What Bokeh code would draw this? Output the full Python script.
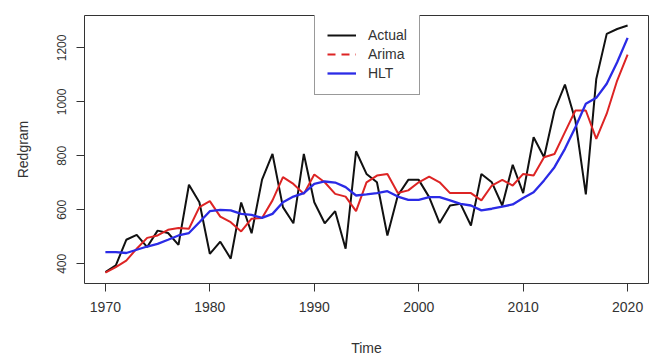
from bokeh.plotting import figure
from bokeh.models import Range1d, Legend, LegendItem, FixedTicker
from bokeh.embed import file_html
from bokeh.resources import INLINE

years = list(range(1970, 2021))
actual = [369, 394, 489, 507, 462, 523, 514, 470, 693, 628,
          437, 482, 419, 627, 513, 712, 807, 610, 550, 807,
          628, 550, 595, 456, 817, 733, 702, 505, 653, 711,
          711, 647, 551, 616, 622, 542, 733, 702, 616, 767,
          662, 869, 795, 968, 1064, 931, 657, 1085, 1252, 1270,
          1283]
arima = [367, 388, 412, 456, 496, 505, 526, 533, 530, 610,
         632, 575, 554, 520, 567, 570, 635, 721, 696, 659,
         731, 702, 659, 649, 595, 702, 727, 733, 662, 672,
         702, 723, 702, 662, 662, 662, 635, 690, 711, 690,
         733, 727, 795, 807, 888, 968, 968, 863, 956, 1079,
         1175]
hlt = [443, 443, 440, 452, 464, 474, 489, 505, 514, 554,
       595, 600, 598, 585, 581, 570, 585, 628, 649, 662,
       696, 705, 701, 684, 653, 657, 662, 669, 649, 637,
       637, 647, 647, 635, 622, 616, 598, 604, 612, 620,
       644, 665, 709, 758, 826, 906, 993, 1015, 1067, 1147,
       1237]
x_ticks = [1970, 1980, 1990, 2000, 2010, 2020]
y_ticks = [400, 600, 800, 1000, 1200]
series_labels = ["Actual", "Arima", "HLT"]

TXT = "#333333"
FONT = "Liberation Sans"

p = figure(frame_width=564, frame_height=268, output_backend="svg", toolbar_location=None,
           x_range=Range1d(1968, 2022), y_range=Range1d(327, 1320),
           min_border_left=84, min_border_top=15, min_border_right=5, min_border_bottom=75,
           background_fill_color="white", border_fill_color="white")

p.xgrid.visible = False
p.ygrid.visible = False
p.outline_line_color = "#333333"
p.outline_line_width = 1
p.outline_line_alpha = 1

for ax in (p.xaxis, p.yaxis):
    ax.axis_line_color = None
    ax.major_tick_in = 0
    ax.major_tick_out = 8
    ax.major_tick_line_color = "#333333"
    ax.minor_tick_line_color = None
    ax.major_label_text_font = FONT
    ax.major_label_text_color = TXT
    ax.axis_label_text_font = FONT
    ax.axis_label_text_color = TXT
    ax.axis_label_text_font_style = "normal"

p.xaxis.ticker = FixedTicker(ticks=x_ticks)
p.yaxis.ticker = FixedTicker(ticks=y_ticks)
p.xaxis.major_label_text_font_size = "14px"
p.yaxis.major_label_text_font_size = "12px"
p.xaxis.major_label_standoff = 10
p.yaxis.major_label_standoff = 10
p.yaxis.major_label_orientation = "vertical"
p.xaxis.axis_label = "Time"
p.yaxis.axis_label = "Redgram"
p.xaxis.axis_label_text_font_size = "14px"
p.yaxis.axis_label_text_font_size = "14px"
p.xaxis.axis_label_standoff = 25
p.yaxis.axis_label_standoff = 24

r_act = p.line(years, actual, line_color="#111111", line_width=2)
r_ari = p.line(years, arima, line_color="#dd2424", line_width=2)
r_hlt = p.line(years, hlt, line_color="#2b2be6", line_width=2.3)
# legend-only dashed swatch for Arima (draws nothing in the plot area)
r_ari_leg = p.line([years[0], years[0]], [float("nan"), float("nan")],
                   line_color="#dd2424", line_width=2, line_dash="8 6")

legend = Legend(items=[LegendItem(label=series_labels[0], renderers=[r_act]),
                       LegendItem(label=series_labels[1], renderers=[r_ari_leg]),
                       LegendItem(label=series_labels[2], renderers=[r_hlt])],
                location=(230, 188), orientation="vertical",
                border_line_color="#333333", border_line_width=1,
                background_fill_color="white", background_fill_alpha=1,
                padding=12, spacing=1, margin=0,
                glyph_width=29, glyph_height=18, label_height=18, label_standoff=12,
                label_text_font=FONT, label_text_font_size="14px", label_text_color=TXT)
p.add_layout(legend)

open("out.html", "w").write(file_html(p, INLINE))
